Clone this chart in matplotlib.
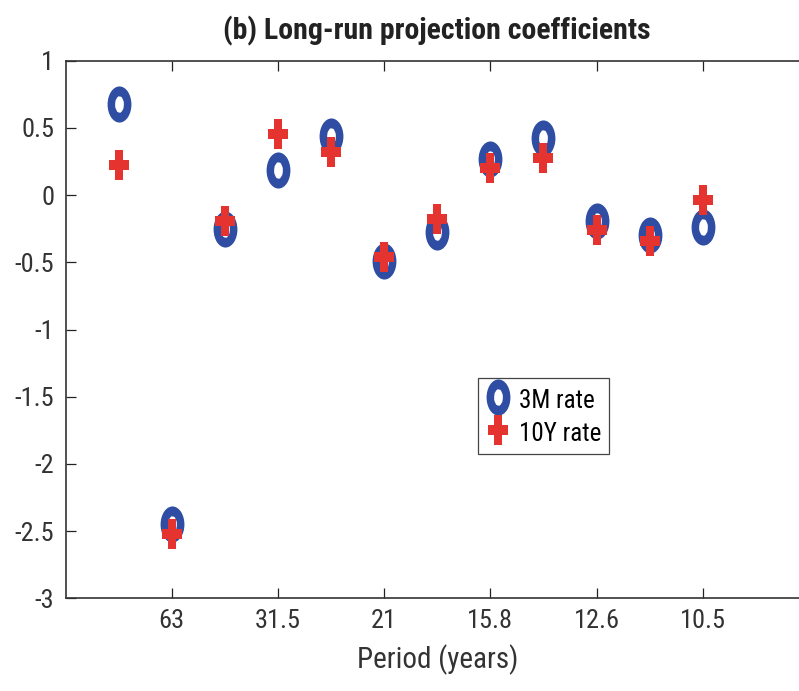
import numpy as np
import matplotlib
matplotlib.use("Agg")
import matplotlib.pyplot as plt
from matplotlib import font_manager
from matplotlib.path import Path
from matplotlib.ticker import FixedLocator, FuncFormatter

# data
idx = [1, 2, 3, 4, 5, 6, 7, 8, 9, 10, 11, 12]
rate_3m = [0.68, -2.45, -0.25, 0.19, 0.44, -0.49, -0.275, 0.27, 0.425, -0.19, -0.30, -0.235]
rate_10y = [0.225, -2.52, -0.195, 0.455, 0.32, -0.46, -0.175, 0.20, 0.275, -0.26, -0.34, -0.04]
tick_pos = [2, 4, 6, 8, 10, 12]
tick_labels = ["63", "31.5", "21", "15.8", "12.6", "10.5"]


def pick_font():
    for name in ["Liberation Sans Narrow", "Roboto Condensed", "Open Sans Condensed",
                 "DejaVu Sans Condensed", "Liberation Sans"]:
        try:
            font_manager.findfont(name, fallback_to_default=False)
            return name
        except Exception:
            pass
    return "DejaVu Sans"


fam = pick_font()
plt.rcParams["font.family"] = [fam, "DejaVu Sans"]
plt.rcParams["axes.unicode_minus"] = False

# ring marker squeezed horizontally (like the source figure)
outer = Path.unit_circle().vertices * [0.66, 1.0]
inner = (Path.unit_circle().vertices * [0.24, 0.45])[::-1]
ccodes = Path.unit_circle().codes
ring = Path(np.concatenate([outer, inner]), np.concatenate([ccodes, ccodes]))

# thick plus marker, also narrow
hw, ht, vt = 0.66, 0.34, 0.24
plus = Path([(-vt, 1), (vt, 1), (vt, ht), (hw, ht), (hw, -ht), (vt, -ht), (vt, -1),
             (-vt, -1), (-vt, -ht), (-hw, -ht), (-hw, ht), (-vt, ht), (-vt, 1)], closed=True)

blue = "#2E4DA3"
red = "#E53330"

fig = plt.figure(figsize=(7.99, 6.91), dpi=100)
ax = fig.add_axes([65.5 / 799, 1 - 598.3 / 691, (809 - 65.5) / 799, (598.3 - 60.7) / 691])

ax.plot(idx, rate_3m, linestyle="none", marker=ring, markersize=26, color=blue,
        markeredgewidth=0, label="3M rate")
ax.plot(idx, rate_10y, linestyle="none", marker=plus, markersize=21.5, color=red,
        markeredgewidth=0, label="10Y rate")

ax.set_xlim(0, 14)
ax.set_ylim(-3, 1)
ax.xaxis.set_major_locator(FixedLocator(tick_pos))
ax.set_xticklabels(tick_labels)
ax.yaxis.set_major_locator(FixedLocator(np.arange(-3, 1.01, 0.5)))
ax.yaxis.set_major_formatter(FuncFormatter(lambda v, p: ("%g" % v)))

ax.tick_params(direction="in", top=True, right=True, length=7, width=0.9,
               labelsize=19, pad=8, colors="#222222", labelcolor="#333333")
for s in ax.spines.values():
    s.set_linewidth(1.2)
    s.set_color("#333333")

ax.set_xlabel("Period (years)", fontsize=21, color="#333333", labelpad=8)
ax.set_title("(b) Long-run projection coefficients", fontsize=21.5, fontweight="bold",
             color="#222222", pad=15)

leg = ax.legend(loc="upper left", bbox_to_anchor=(478 / 799, 1 - 378 / 691),
                bbox_transform=fig.transFigure, borderaxespad=0, fontsize=18,
                fancybox=False, framealpha=1, edgecolor="#444444", handlelength=1.0,
                handleheight=1.3, handletextpad=0.35, borderpad=0.3, labelspacing=0.25)
leg.get_frame().set_linewidth(0.9)

fig.savefig("out.png", dpi=100)
